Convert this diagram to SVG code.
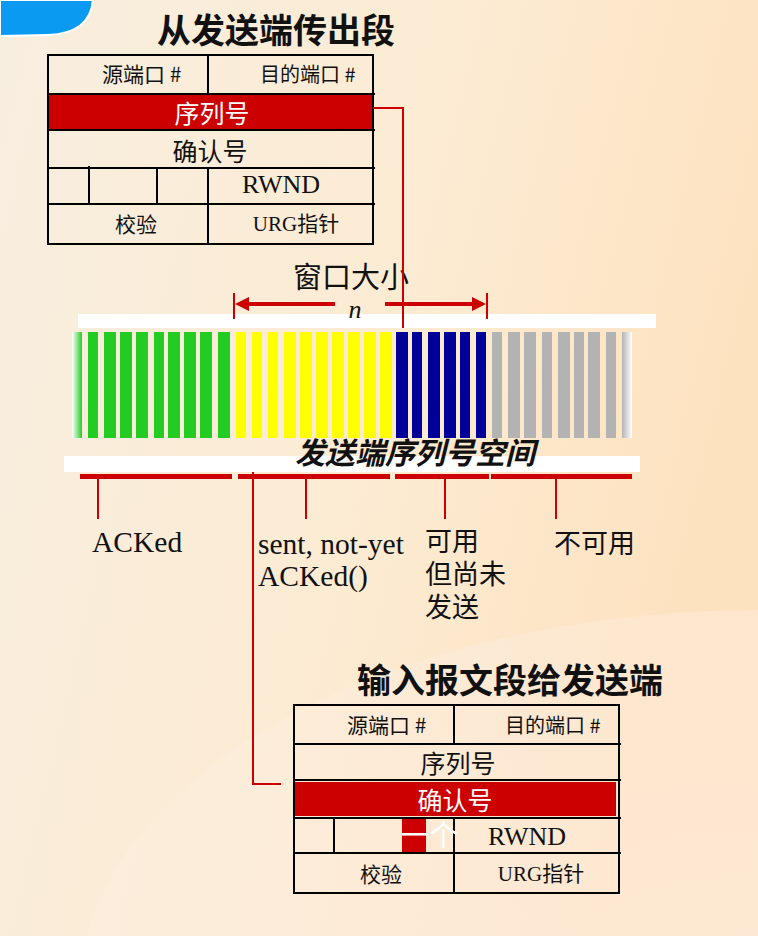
<svg xmlns="http://www.w3.org/2000/svg" width="758" height="936" viewBox="0 0 758 936">
<defs>
<linearGradient id="bg" x1="0" y1="0" x2="1" y2="0.3">
<stop offset="0" stop-color="#f8eee0"/>
<stop offset="0.6" stop-color="#fcebd2"/>
<stop offset="1" stop-color="#fde2c0"/>
</linearGradient>
<radialGradient id="glow" cx="0.5" cy="0.5" r="0.5">
<stop offset="0" stop-color="#fdeee4" stop-opacity="0.9"/>
<stop offset="1" stop-color="#fdeee4" stop-opacity="0.6"/>
</radialGradient>
<linearGradient id="gfade" x1="0" y1="0" x2="1" y2="0">
<stop offset="0" stop-color="#ffffff"/>
<stop offset="1" stop-color="#22cc22"/>
</linearGradient>
<linearGradient id="grayfade" x1="0" y1="0" x2="1" y2="0">
<stop offset="0" stop-color="#b3b3b3"/>
<stop offset="1" stop-color="#ffffff"/>
</linearGradient>
<style>
.cjk{font-family:"Noto Sans CJK SC","Noto Sans",sans-serif;}
.ser{font-family:"Liberation Serif","Noto Sans CJK SC",serif;}
.title{font-family:"Noto Sans CJK SC",sans-serif;font-weight:bold;font-size:34px;fill:#111;}
.ln{stroke:#000;stroke-width:2;fill:none;}
.red{fill:#cc0000;}
.rl{stroke:#cc0000;stroke-width:2;fill:none;}
.g{fill:#22cc22;}
.y{fill:#ffff00;}
.b{fill:#000099;}
.gr{fill:#b3b3b3;}
.c{dominant-baseline:central;}
</style>
</defs>
<rect x="0" y="0" width="758" height="936" fill="url(#bg)"/>
<ellipse cx="760" cy="990" rx="680" ry="380" fill="url(#glow)" opacity="0.6"/>
<path d="M0,0 L93,0 C91,22 76,34 48,35 L0,36 Z" fill="#0a9af2" stroke="#ffffff" stroke-width="2"/>

<g id="title-out">
<text x="157" y="28" class="title c">从发送端传出段</text>
</g>

<g id="segment-out">
<rect x="48" y="95" width="325" height="34" class="red"/>
<rect x="48" y="55" width="325" height="189" class="ln"/>
<line x1="48" y1="94" x2="375" y2="94" class="ln"/>
<line x1="48" y1="130" x2="375" y2="130" class="ln"/>
<line x1="48" y1="168" x2="375" y2="168" class="ln"/>
<line x1="48" y1="204" x2="375" y2="204" class="ln"/>
<line x1="208" y1="55" x2="208" y2="94" class="ln"/>
<line x1="208" y1="168" x2="208" y2="244" class="ln"/>
<line x1="89" y1="166" x2="89" y2="204" class="ln"/>
<line x1="157" y1="168" x2="157" y2="204" class="ln"/>
<text x="102" y="73" class="cjk c" font-size="21" fill="#111">源端口 #</text>
<text x="260" y="73" class="cjk c" font-size="20" fill="#111">目的端口 #</text>
<text x="212" y="112" class="cjk c" font-size="25" fill="#fff" text-anchor="middle">序列号</text>
<text x="210" y="150" class="cjk c" font-size="25" fill="#111" text-anchor="middle">确认号</text>
<text x="281" y="193" class="ser" font-size="26" fill="#111" text-anchor="middle">RWND</text>
<text x="136" y="223" class="cjk c" font-size="21" fill="#111" text-anchor="middle">校验</text>
<text x="296" y="231" class="ser" font-size="21" fill="#111" text-anchor="middle">URG指针</text>
</g>

<g id="seq-space">
<rect x="78" y="314" width="578" height="14" fill="#fff"/>
<rect x="64" y="456" width="576" height="16" fill="#fff"/>
<rect x="72" y="332" width="10" height="106" fill="url(#gfade)"/>
<rect x="88" y="332" width="10" height="106" class="g"/>
<rect x="104" y="332" width="12" height="106" class="g"/>
<rect x="120" y="332" width="12" height="106" class="g"/>
<rect x="136" y="332" width="12" height="106" class="g"/>
<rect x="154" y="332" width="10" height="106" class="g"/>
<rect x="168" y="332" width="12" height="106" class="g"/>
<rect x="184" y="332" width="12" height="106" class="g"/>
<rect x="200" y="332" width="12" height="106" class="g"/>
<rect x="218" y="332" width="12" height="106" class="g"/>
<rect x="236" y="332" width="10" height="106" class="y"/>
<rect x="252" y="332" width="10" height="106" class="y"/>
<rect x="268" y="332" width="10" height="106" class="y"/>
<rect x="284" y="332" width="12" height="106" class="y"/>
<rect x="300" y="332" width="12" height="106" class="y"/>
<rect x="316" y="332" width="12" height="106" class="y"/>
<rect x="332" y="332" width="12" height="106" class="y"/>
<rect x="348" y="332" width="12" height="106" class="y"/>
<rect x="364" y="332" width="12" height="106" class="y"/>
<rect x="380" y="332" width="12" height="106" class="y"/>
<rect x="396" y="332" width="12" height="106" class="b"/>
<rect x="412" y="332" width="10" height="106" class="b"/>
<rect x="428" y="332" width="12" height="106" class="b"/>
<rect x="444" y="332" width="12" height="106" class="b"/>
<rect x="460" y="332" width="10" height="106" class="b"/>
<rect x="476" y="332" width="10" height="106" class="b"/>
<rect x="492" y="332" width="10" height="106" class="gr"/>
<rect x="508" y="332" width="12" height="106" class="gr"/>
<rect x="524" y="332" width="12" height="106" class="gr"/>
<rect x="542" y="332" width="10" height="106" class="gr"/>
<rect x="558" y="332" width="12" height="106" class="gr"/>
<rect x="574" y="332" width="10" height="106" class="gr"/>
<rect x="588" y="332" width="12" height="106" class="gr"/>
<rect x="606" y="332" width="10" height="106" class="gr"/>
<rect x="622" y="332" width="10" height="106" fill="url(#grayfade)"/>
<text x="295" y="451" class="cjk c" font-size="30" font-weight="bold" font-style="italic" fill="#111">发送端序列号空间</text>
<rect x="80" y="474" width="152" height="5" class="red"/>
<rect x="238" y="474" width="152" height="5" class="red"/>
<rect x="395" y="474" width="94" height="5" class="red"/>
<rect x="491" y="474" width="141" height="5" class="red"/>
</g>

<g id="window">
<text x="293" y="275" class="cjk c" font-size="29" fill="#111">窗口大小</text>
<text x="355" y="318" class="ser" font-size="26" font-style="italic" fill="#111" text-anchor="middle">n</text>
</g>

<g id="labels">
<text x="92" y="552" class="ser" font-size="29.5" fill="#111">ACKed</text>
<text class="ser" font-size="29.5" fill="#111"><tspan x="258" y="554">sent, not-yet</tspan><tspan x="258" y="586">ACKed()</tspan></text>
<text class="cjk" font-size="27" fill="#111"><tspan x="425" y="551">可用</tspan><tspan x="425" y="584">但尚未</tspan><tspan x="425" y="617">发送</tspan></text>
<text x="554" y="541" class="cjk c" font-size="27" fill="#111">不可用</text>
</g>

<g id="title-in">
<text x="357" y="678" class="title c">输入报文段给发送端</text>
</g>

<g id="segment-in">
<rect x="295" y="782" width="321" height="34" class="red"/>
<rect x="402" y="818" width="24" height="35" class="red"/>
<rect x="294" y="705" width="325" height="188" class="ln"/>
<line x1="294" y1="744" x2="621" y2="744" class="ln"/>
<line x1="294" y1="780" x2="621" y2="780" class="ln"/>
<line x1="294" y1="818" x2="621" y2="818" class="ln"/>
<line x1="294" y1="853" x2="621" y2="853" class="ln"/>
<line x1="454" y1="705" x2="454" y2="744" class="ln"/>
<line x1="454" y1="818" x2="454" y2="893" class="ln"/>
<line x1="334" y1="818" x2="334" y2="853" class="ln"/>
<text x="347" y="724" class="cjk c" font-size="21" fill="#111">源端口 #</text>
<text x="505" y="724" class="cjk c" font-size="20" fill="#111">目的端口 #</text>
<text x="458" y="762" class="cjk c" font-size="25" fill="#111" text-anchor="middle">序列号</text>
<text x="455" y="799" class="cjk c" font-size="25" fill="#fff" text-anchor="middle">确认号</text>
<text x="400" y="833" class="cjk c" font-size="29" fill="#fff">一个</text>
<text x="527" y="845" class="ser" font-size="26" fill="#111" text-anchor="middle">RWND</text>
<text x="381" y="873" class="cjk c" font-size="21" fill="#111" text-anchor="middle">校验</text>
<text x="541" y="881" class="ser" font-size="21" fill="#111" text-anchor="middle">URG指针</text>
</g>

<g id="connectors">
<line x1="234" y1="293" x2="234" y2="319" class="rl"/>
<line x1="487" y1="293" x2="487" y2="319" class="rl"/>
<line x1="246" y1="304" x2="335" y2="304" stroke="#cc0000" stroke-width="4"/>
<polygon points="235,304 249,297 249,311" class="red"/>
<line x1="385" y1="304" x2="475" y2="304" stroke="#cc0000" stroke-width="4"/>
<polygon points="486,304 472,297 472,311" class="red"/>
<polyline points="373,108 403,108 403,328" class="rl"/>
<polyline points="253,472 253,784 281,784" class="rl"/>
<line x1="98" y1="479" x2="98" y2="519" class="rl"/>
<line x1="306" y1="479" x2="306" y2="519" class="rl"/>
<line x1="445" y1="479" x2="445" y2="519" class="rl"/>
<line x1="556" y1="479" x2="556" y2="519" class="rl"/>
</g>
</svg>
